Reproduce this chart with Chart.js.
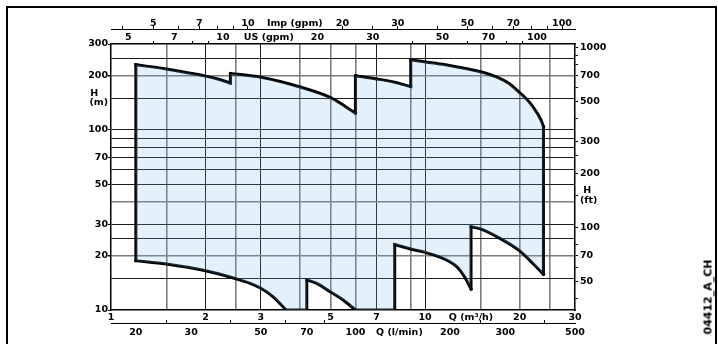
<!DOCTYPE html>
<html>
<head>
<meta charset="utf-8">
<script src="https://cdn.jsdelivr.net/npm/chart.js@4.4.0/dist/chart.umd.min.js"></script>
<style>
  body { margin: 0; background: #fff; }
  #wrap { position: relative; width: 718px; height: 344px; overflow: hidden; }
  #curve { position: absolute; left: 0; top: 0; }
  #frame { position: absolute; left: 6px; top: 6px; width: 711px; height: 400px; border: 2px solid #000; box-sizing: border-box; }
  #code { position: absolute; left: 708px; top: 297px; transform: translate(-50%, -50%) rotate(-90deg);
          font: bold 11px "DejaVu Sans"; white-space: nowrap; }
</style>
</head>
<body>
<div id="wrap">
  <div id="frame"></div>
  <canvas id="curve" width="718" height="344"></canvas>
  <div id="code">04412_A_CH</div>
</div>
<script>
// working range of the pump family (Q in m3/h, H in m)
// every piece goes left -> right, the envelope jumps straight up/down between pieces
// top edge
const top1Q = [1.2, 1.5, 1.72, 2.0, 2.2, 2.4];
const top1H = [230, 218, 209, 199, 191, 182];
const top2Q = [2.4, 3.0, 4.0, 5.0, 6.0];
const top2H = [206, 196, 173, 151, 124];
const top3Q = [6.0, 7.0, 8.0, 9.0];
const top3H = [200, 192, 184, 174];
const top4Q = [9.0, 9.94, 11.6, 14.9, 17.2, 18.5, 19.9, 20.9, 22.0, 23.4, 23.8];
const top4H = [245, 239, 230, 211, 194, 181, 162, 150, 135, 113, 104];
// bottom edge
const bot1Q = [1.2, 1.5, 2.0, 2.5, 2.76, 3.0, 3.27, 3.61];
const bot1H = [18.8, 18.0, 16.5, 14.9, 14.1, 13.2, 11.9, 10];
const bot2Q = [4.2, 4.5, 5.0, 5.47, 6.0];
const bot2H = [14.7, 14.1, 12.6, 11.4, 10];
const bot3Q = [8.0, 9.0, 10.0, 11.2, 11.94, 12.66, 13.32, 14.0];
const bot3H = [23.1, 21.8, 20.9, 19.6, 18.6, 17.3, 15.4, 13.1];
const bot4Q = [14.0, 15.0, 17.3, 20.0, 22.2, 23.8];
const bot4H = [29.0, 28.2, 25.0, 21.3, 17.9, 15.8];
const floorH = 10; // where the bottom edge runs flat along the axis

// ticks and their labels ('' means grid line / tick mark only)
const qTicks = [1, 1.5, 2, 2.5, 3, 4, 5, 6, 7, 9, 10, 14, 15, 20, 25, 30];
const qLabels = ['1', '', '2', '', '3', '', '5', '', '7', '', '10', 'Q (m³/h)', '', '20', '', '30'];
const lminTicks = [20, 25, 30, 40, 50, 60, 70, 80, 100, 138, 200, 250, 300, 400, 500];
const lminLabels = ['20', '', '30', '', '50', '', '70', '', '100', 'Q (l/min)', '200', '', '300', '', '500'];
const impTicks = [4, 5, 6, 7, 8, 9, 10, 14.1, 20, 25, 30, 40, 50, 60, 70, 80, 90, 100];
const impLabels = ['', '5', '', '7', '', '', '10', 'Imp (gpm)', '20', '', '30', '', '50', '', '70', '', '', '100'];
const usTicks = [5, 6, 7, 8, 9, 10, 14, 20, 30, 40, 50, 60, 70, 80, 90, 100];
const usLabels = ['5', '', '7', '', '', '10', 'US (gpm)', '20', '30', '', '50', '', '70', '', '', '100'];
const hTicks = [10, 15, 20, 25, 30, 40, 50, 60, 70, 80, 90, 100, 150, 200, 250, 300];
const hLabels = ['10', '', '20', '', '30', '', '50', '', '70', '', '', '100', ['H   ', '(m)'], '200', '', '300'];
const ftTicks = [40, 50, 60, 70, 80, 100, 150, 200, 250, 300, 400, 500, 600, 700, 800, 900, 1000];
const ftLabels = ['', '50', '', '70', '', '100', [' H', '(ft)'], '200', '', '300', '', '500', '', '700', '', '', '1000'];

// unit conversions for the extra axes (1 m3/h = ...)
const LMIN = 16.667, USGPM = 4.4029, IMPGPM = 3.6662;
// the ft scale on the sheet sits a few px off the m scale, so it gets its own range
const FT_MIN = 34.7, FT_MAX = 1043;

// grey (lighter) grid lines, the rest are black
const greyQ = [1.5, 2.5, 4, 5, 6, 9, 15, 20, 25];
const greyH = [20, 40, 200];

const tickFont = { family: 'DejaVu Sans', size: 9.5, weight: 'bold', lineHeight: 1 };

function pts(q, h) { return q.map((v, i) => ({ x: v, y: h[i] })); }
const first = a => a[0];
const last = a => a[a.length - 1];

const top1 = pts(top1Q, top1H), top2 = pts(top2Q, top2H), top3 = pts(top3Q, top3H), top4 = pts(top4Q, top4H);
const bot1 = pts(bot1Q, bot1H), bot2 = pts(bot2Q, bot2H), bot3 = pts(bot3Q, bot3H), bot4 = pts(bot4Q, bot4H);
const floor3 = { x: first(bot3).x, y: floorH }; // drop at the left end of bot3
const floor2 = { x: first(bot2).x, y: floorH };

// closed outline for the blue area, clockwise
const outline = [].concat(top1, top2, top3, top4,
  bot4.slice().reverse(), bot3.slice().reverse(), [floor3],
  bot2.slice().reverse(), [floor2], bot1.slice().reverse(), [first(top1)]);

// straight edges (vertical jumps + flat bits on the axis), gaps split them
const gap = { x: 1, y: null };
const edges = [
  last(top1), first(top2), gap,
  last(top2), first(top3), gap,
  last(top3), first(top4), gap,
  last(top4), last(bot4), gap,
  first(bot4), last(bot3), gap,
  first(bot3), floor3, last(bot2), gap,
  first(bot2), floor2, last(bot1), gap,
  first(bot1), first(top1)
];

function setTicks(list) {
  return function (scale) { scale.ticks = list.map(v => ({ value: v })); };
}
function fixSize(size) {
  return function (scale) {
    if (scale.isHorizontal()) scale.height = size; else scale.width = size;
  };
}
function isText(lbl) { return Array.isArray(lbl) || /[a-z]/i.test(lbl); }

function gridColor(ticks, labels, grey, ends) {
  return function (ctx) {
    const v = ticks[ctx.index], lbl = labels[ctx.index];
    if (ends.includes(v) || (lbl && !Array.isArray(lbl) && isText(lbl))) return 'rgba(0,0,0,0)';
    return grey.includes(v) ? '#7c7c7c' : '#1c1c1c';
  };
}
function gridWidth(ticks, grey) {
  return ctx => grey.includes(ticks[ctx.index]) ? 1.6 : 1;
}

// one smooth black line per piece
function piece(data) {
  return {
    data: data, xAxisID: 'x', yAxisID: 'y',
    borderColor: '#000', borderWidth: 3, borderCapStyle: 'square',
    cubicInterpolationMode: 'monotone', fill: false, pointRadius: 0
  };
}

new Chart(document.getElementById('curve'), {
  type: 'line',
  data: {
    datasets: [
      {
        data: outline, xAxisID: 'x', yAxisID: 'y',
        borderWidth: 0, borderColor: 'rgba(0,0,0,0)',
        backgroundColor: 'rgba(120,180,230,0.2)',
        fill: 'shape', pointRadius: 0, tension: 0
      },
      piece(top1), piece(top2), piece(top3), piece(top4),
      piece(bot1), piece(bot2), piece(bot3), piece(bot4),
      {
        data: edges, xAxisID: 'x', yAxisID: 'y',
        borderColor: '#000', borderWidth: 3, borderCapStyle: 'square', borderJoinStyle: 'miter',
        fill: false, pointRadius: 0, tension: 0, spanGaps: false
      }
    ]
  },
  options: {
    responsive: false,
    animation: false,
    devicePixelRatio: 1,
    layout: { padding: { left: 60, right: 103, top: 14, bottom: 4 } },
    plugins: { legend: { display: false }, tooltip: { enabled: false } },
    scales: {
      x: {
        type: 'logarithmic', position: 'bottom', weight: 0, min: 1, max: 30,
        afterBuildTicks: setTicks(qTicks), afterFit: fixSize(13),
        ticks: { autoSkip: false, maxRotation: 0, padding: 3, color: '#000', font: tickFont, callback: (v, i) => qLabels[i] },
        grid: { drawTicks: false, color: gridColor(qTicks, qLabels, greyQ, [1, 30]), lineWidth: gridWidth(qTicks, greyQ) },
        border: { color: '#000', width: 1.5 }
      },
      xl: {
        type: 'logarithmic', position: 'bottom', weight: 1, min: LMIN, max: 30 * LMIN,
        afterBuildTicks: setTicks(lminTicks), afterFit: fixSize(17),
        ticks: { autoSkip: false, maxRotation: 0, padding: 8, color: '#000', font: tickFont, callback: (v, i) => lminLabels[i] },
        grid: { drawOnChartArea: false, tickLength: -3, tickColor: ctx => lminLabels[ctx.index] === '' ? '#000' : 'rgba(0,0,0,0)' },
        border: { color: '#000', width: 1 }
      },
      xu: {
        type: 'logarithmic', position: 'top', weight: 0, min: USGPM, max: 30 * USGPM,
        afterBuildTicks: setTicks(usTicks), afterFit: fixSize(15),
        ticks: { autoSkip: false, maxRotation: 0, padding: -1, color: '#000', font: tickFont, callback: (v, i) => usLabels[i] },
        grid: { drawOnChartArea: false, tickLength: 3, tickColor: ctx => usLabels[ctx.index] === '' ? '#000' : 'rgba(0,0,0,0)' },
        border: { color: '#000', width: 1.5 }
      },
      xi: {
        type: 'logarithmic', position: 'top', weight: 1, min: IMPGPM, max: 30 * IMPGPM,
        afterBuildTicks: setTicks(impTicks), afterFit: fixSize(15),
        ticks: { autoSkip: false, maxRotation: 0, padding: -2, color: '#000', font: tickFont, callback: (v, i) => impLabels[i] },
        grid: { drawOnChartArea: false, tickLength: 3, tickColor: ctx => isText(impLabels[ctx.index]) ? 'rgba(0,0,0,0)' : '#000' },
        border: { color: '#000', width: 1 }
      },
      y: {
        type: 'logarithmic', position: 'left', min: 10, max: 300,
        afterBuildTicks: setTicks(hTicks), afterFit: fixSize(51),
        ticks: { autoSkip: false, padding: 0, color: '#000', font: tickFont, callback: (v, i) => hLabels[i] },
        grid: {
          tickLength: 3,
          color: gridColor(hTicks, hLabels, greyH, [10, 300]),
          lineWidth: gridWidth(hTicks, greyH),
          tickColor: ctx => (hLabels[ctx.index] === '' || Array.isArray(hLabels[ctx.index])) ? 'rgba(0,0,0,0)' : '#000'
        },
        border: { color: '#000', width: 1.5 }
      },
      yf: {
        type: 'logarithmic', position: 'right', min: FT_MIN, max: FT_MAX,
        afterBuildTicks: setTicks(ftTicks), afterFit: fixSize(40),
        ticks: { autoSkip: false, padding: 2, color: '#000', font: tickFont, callback: (v, i) => ftLabels[i] },
        grid: { drawOnChartArea: false, tickLength: 3, tickColor: '#000' },
        border: { color: '#000', width: 1.5 }
      }
    }
  }
});
</script>
</body>
</html>
